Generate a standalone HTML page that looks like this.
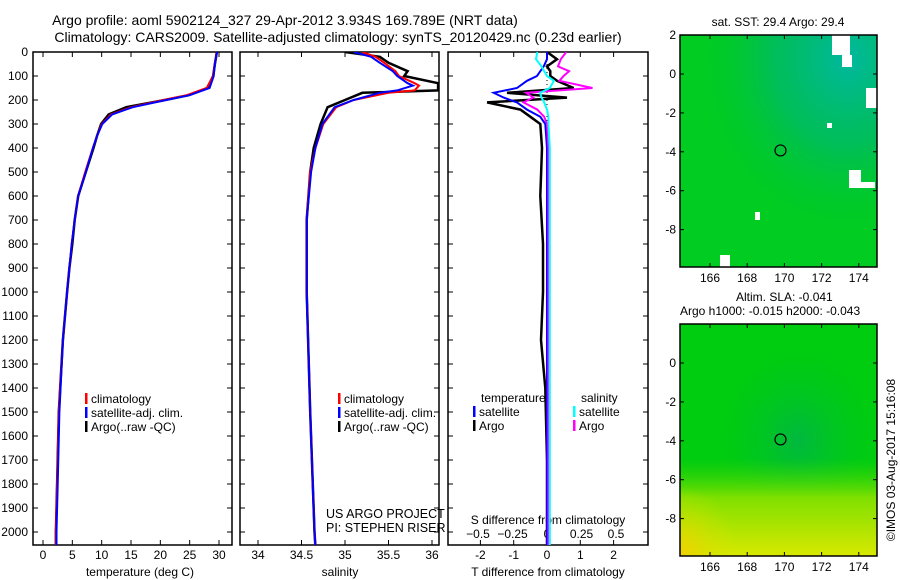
<!DOCTYPE html>
<html><head><meta charset="utf-8"><style>
body{margin:0;background:#fff;}
svg{display:block;font-family:"Liberation Sans",sans-serif;}
</style></head><body>
<svg id="c" width="900" height="580" viewBox="0 0 900 580">
<defs>
<clipPath id="cp1"><rect x="33" y="52" width="199" height="493"/></clipPath>
<clipPath id="cp2"><rect x="240" y="52" width="199" height="493"/></clipPath>
<clipPath id="cp3"><rect x="448" y="52" width="200" height="493"/></clipPath>
<radialGradient id="teal" cx="0.85" cy="0.1" r="0.75"><stop offset="0" stop-color="#00b8a0"/><stop offset="0.5" stop-color="#00b870" stop-opacity="0.7"/><stop offset="1" stop-color="#00c830" stop-opacity="0"/></radialGradient>
<radialGradient id="dark" cx="0.6" cy="0.5" r="0.4"><stop offset="0" stop-color="#00b840"/><stop offset="1" stop-color="#00c820" stop-opacity="0"/></radialGradient>
<linearGradient id="yel" x1="0" y1="0" x2="0" y2="1"><stop offset="0" stop-color="#40d800" stop-opacity="0"/><stop offset="0.58" stop-color="#40d800" stop-opacity="0"/><stop offset="0.75" stop-color="#80e000"/><stop offset="1" stop-color="#d8e800"/></linearGradient>
<radialGradient id="corner" cx="0" cy="1" r="0.3"><stop offset="0" stop-color="#f0d000"/><stop offset="1" stop-color="#d0e800" stop-opacity="0"/></radialGradient>
</defs>
<text x="285" y="25" font-size="14" text-anchor="middle">Argo profile: aoml 5902124_327 29-Apr-2012 3.934S 169.789E (NRT data)</text>
<text x="338" y="42" font-size="14" text-anchor="middle">Climatology: CARS2009. Satellite-adjusted climatology: synTS_20120429.nc (0.23d earlier)</text>
<g id="g"></g>
</svg>
<script>
// depth grid (m)
const depths=[0,20,50,100,150,180,200,230,260,300,350,400,500,600,700,800,900,1000,1200,1500,1800,2000,2060];
// temperature (deg C)
const tempClim=[29.6,29.5,29.3,29.0,27.9,24.5,20.5,15.0,11.6,10.0,9.2,8.5,7.2,6.0,5.4,4.9,4.5,4.1,3.4,2.7,2.4,2.2,2.2];
const tempSat =[29.7,29.5,29.3,29.1,28.4,25.0,21.0,15.3,11.8,10.1,9.2,8.5,7.3,6.0,5.4,4.9,4.5,4.1,3.4,2.8,2.5,2.3,2.3];
const tempArgo=[29.6,29.5,29.3,29.0,28.0,24.8,20.8,14.2,11.2,9.9,9.2,8.6,7.3,6.0,5.4,5.0,4.5,4.1,3.4,2.7,2.4,2.2,2.2];
// salinity
const salDepths=[0,20,45,80,100,130,140,160,170,200,230,300,400,500,700,1000,1500,2000,2060];
const salClim=[35.2,35.35,35.45,35.58,35.62,35.8,35.85,35.8,35.5,35.1,34.9,34.75,34.66,34.6,34.56,34.56,34.6,34.65,34.66];
const salSat =[35.1,35.3,35.4,35.55,35.6,35.72,35.78,35.6,35.4,35.1,34.88,34.74,34.66,34.61,34.56,34.56,34.6,34.65,34.66];
const salArgo=[35.0,35.4,35.5,35.72,35.68,36.07,36.07,36.07,35.2,35.0,34.8,34.72,34.64,34.6,34.56,34.56,34.6,34.65,34.66];
// differences
const dDepths=[0,30,60,80,100,120,150,170,190,210,240,270,300,400,600,800,1000,1200,1400,1700,2000,2060];
const tDiffArgo=[0,0.3,0,0.1,0.1,0.3,0.8,-1.2,0.6,-1.8,-0.8,-0.5,-0.2,-0.15,-0.2,-0.12,-0.12,-0.18,-0.05,0,0,0];
const tDiffSat =[0,0,-0.1,-0.2,-0.3,-0.6,-0.9,-1.6,-1.3,-0.9,-0.6,-0.2,-0.05,0,0,0,0,0,0,0,0,0];
const sDiffArgo=[0.14,0.1,0.08,0.16,0.12,0.09,0.33,-0.15,-0.1,-0.17,-0.07,-0.02,0,0.01,0.01,0.01,0.01,0.01,0.01,0.01,0.01,0.01];
const sDiffSat =[-0.07,-0.08,-0.04,-0.02,0,0.05,0.02,-0.05,-0.04,-0.02,0,0.01,0.01,0.02,0.02,0.02,0.02,0.02,0.02,0.02,0.02,0.02];
const depthTicks=[0,100,200,300,400,500,600,700,800,900,1000,1100,1200,1300,1400,1500,1600,1700,1800,1900,2000];
const tempTicks=[0,5,10,15,20,25,30];
const salTicks=[34,34.5,35,35.5,36];
const tdTicks=[-2,-1,0,1,2];
const sdTicks=[-0.5,-0.25,0,0.25,0.5];
const lonTicks=[166,168,170,172,174];
const lat1Ticks=[2,0,-2,-4,-6,-8];
const lat2Ticks=[0,-2,-4,-6,-8];

const NS='http://www.w3.org/2000/svg';
const G=document.getElementById('g');
function mk(tag,attrs,parent){const e=document.createElementNS(NS,tag);for(const k in attrs)e.setAttribute(k,attrs[k]);(parent||G).appendChild(e);return e;}
const yD=d=>52+d*0.24;
const xT=t=>43+t*5.867;
const xS=s=>258+(s-34)*87;
const xTD=v=>547+v*33.3;
const xSD=v=>547+v*138;

function frame(x,w,name){
  const r=mk('rect',{x:x,y:52,width:w,height:493,fill:'none',stroke:'#000','stroke-width':1.5});
  
  
  depthTicks.forEach(d=>{mk('line',{x1:x,x2:x+5,y1:yD(d),y2:yD(d),stroke:'#000'});mk('line',{x1:x+w-5,x2:x+w,y1:yD(d),y2:yD(d),stroke:'#000'});});
}
function xticks(vals,fx,labelY,fmt,name){
  vals.forEach(v=>{const x=fx(v);mk('line',{x1:x,x2:x,y1:545,y2:540,stroke:'#000'});mk('line',{x1:x,x2:x,y1:52,y2:57,stroke:'#000'});
    const t=mk('text',{x:x,y:labelY,'font-size':12,'text-anchor':'middle'});t.textContent=fmt?fmt(v):v;
    
    });
}
function line(xs,ds,fx,color,clip,name,w){
  const p=xs.map((v,i)=>fx(v).toFixed(1)+','+yD(ds[i]).toFixed(1)).join(' ');
  const e=mk('polyline',{points:p,fill:'none',stroke:color,'stroke-width':w||2,'clip-path':'url(#'+clip+')'});
  
  
}
function label(x,y,txt,name,anchor,size){const t=mk('text',{x:x,y:y,'font-size':size||12,'text-anchor':anchor||'start'});t.textContent=txt;
  
  return t;}
function legend(x,y,color,txt,name){mk('rect',{x:x,y:y-10,width:2.5,height:11,fill:color});label(x+6,y,txt,name);}

// panel 1
frame(33,199,'temperature-panel');
depthTicks.forEach(d=>label(28,yD(d)+4,String(d),'depth-tick-label','end'));
xticks(tempTicks,xT,559,null,'temperature-tick-label');
label(140,576,'temperature (deg C)','temperature-axis-title','middle');
line(tempArgo,depths,xT,'#000','cp1','temp-argo-line',2.5);
line(tempClim,depths,xT,'#f00','cp1','temp-climatology-line');
line(tempSat,depths,xT,'#00f','cp1','temp-satellite-line');
legend(85,403,'#f00','climatology','legend-climatology');
legend(85,417,'#00f','satellite-adj. clim.','legend-satellite-clim');
legend(85,431,'#000','Argo(..raw -QC)','legend-argo');

// panel 2
frame(240,199,'salinity-panel');
xticks(salTicks,xS,559,null,'salinity-tick-label');
label(340,576,'salinity','salinity-axis-title','middle');
line(salArgo,salDepths,xS,'#000','cp2','sal-argo-line',2.5);
line(salClim,salDepths,xS,'#f00','cp2','sal-climatology-line');
line(salSat,salDepths,xS,'#00f','cp2','sal-satellite-line');
legend(338,403,'#f00','climatology','legend-climatology-2');
legend(338,417,'#00f','satellite-adj. clim.','legend-satellite-clim-2');
legend(338,431,'#000','Argo(..raw -QC)','legend-argo-2');
label(326,518,'US ARGO PROJECT','project-label',null,12.5);
label(326,532,'PI: STEPHEN RISER','pi-label',null,12.5);

// panel 3
frame(448,200,'difference-panel');
xticks(tdTicks,xTD,559,null,'t-diff-tick-label');
sdTicks.forEach(v=>{label(xSD(v),538,String(v).replace('-','−'),'s-diff-tick-label','middle');});
label(548,524,'S difference from climatology','s-diff-axis-title','middle');
label(548,576,'T difference from climatology','t-diff-axis-title','middle');
mk('line',{x1:547,x2:547,y1:52,y2:545,stroke:'#000','stroke-dasharray':'1,3'});
line(tDiffArgo,dDepths,xTD,'#000','cp3','t-diff-argo-line',2.5);
line(tDiffSat,dDepths,xTD,'#00f','cp3','t-diff-satellite-line');
line(sDiffArgo,dDepths,xSD,'#f0f','cp3','s-diff-argo-line');
line(sDiffSat,dDepths,xSD,'#0ff','cp3','s-diff-satellite-line');
label(481,402,'temperature','legend-temperature-header');
legend(473,416,'#00f','satellite','legend-t-satellite');
legend(473,430,'#000','Argo','legend-t-argo');
label(581,402,'salinity','legend-salinity-header');
legend(573,416,'#0ff','satellite','legend-s-satellite');
legend(573,430,'#f0f','Argo','legend-s-argo');

// maps
const xLon=l=>710+(l-166)*18.6;
function map(top,bottom,y0,latTicks,name,kind){
  const yL=l=>y0-l*19.45;
  const g=mk('g',{});
  
  
  mk('rect',{x:680,y:top,width:197,height:bottom-top,fill:kind==1?'#00cc22':'#00cc10'},g);
  if(kind==1){
    mk('rect',{x:680,y:top,width:197,height:bottom-top,fill:'url(#teal)'},g);
    [[832,35,18,20],[842,55,10,12],[866,88,12,20],[849,170,12,18],[855,182,20,6],[755,212,5,8],[720,255,10,12],[827,123,5,5]].forEach(r=>mk('rect',{x:r[0],y:r[1],width:r[2],height:r[3],fill:'#fff'},g));
  } else {
    mk('rect',{x:680,y:top,width:197,height:bottom-top,fill:'url(#dark)'},g);
    mk('rect',{x:680,y:top,width:197,height:bottom-top,fill:'url(#yel)'},g);
    mk('rect',{x:680,y:top,width:197,height:bottom-top,fill:'url(#corner)'},g);
  }
  mk('rect',{x:680,y:top,width:197,height:bottom-top,fill:'none',stroke:'#000','stroke-width':1.5},g);
  mk('circle',{cx:xLon(169.79),cy:yL(-3.93),r:5.5,fill:'none',stroke:'#000','stroke-width':1.2},g);
  lonTicks.forEach(l=>{mk('line',{x1:xLon(l),x2:xLon(l),y1:bottom,y2:bottom-4,stroke:'#000'},g);mk('line',{x1:xLon(l),x2:xLon(l),y1:top,y2:top+4,stroke:'#000'},g);
    label(xLon(l),bottom+15,String(l),'longitude-tick-label','middle');});
  latTicks.forEach(l=>{mk('line',{x1:680,x2:684,y1:yL(l),y2:yL(l),stroke:'#000'},g);mk('line',{x1:873,x2:877,y1:yL(l),y2:yL(l),stroke:'#000'},g);
    label(676,yL(l)+4,String(l),'latitude-tick-label','end');});
}
map(35,267,74,lat1Ticks,'sst-map',1);
map(324,556,363,lat2Ticks,'sla-map',2);
label(778,26,'sat. SST: 29.4  Argo: 29.4','sst-map-title','middle');
label(736,301,'Altim. SLA: -0.041','sla-label');
label(680,315,'Argo h1000: -0.015 h2000: -0.043','argo-height-label');
const cr=label(0,0,'©IMOS 03-Aug-2017 15:16:08','imos-credit','middle');
cr.setAttribute('transform','translate(895,460) rotate(-90)');
</script>
</body></html>
